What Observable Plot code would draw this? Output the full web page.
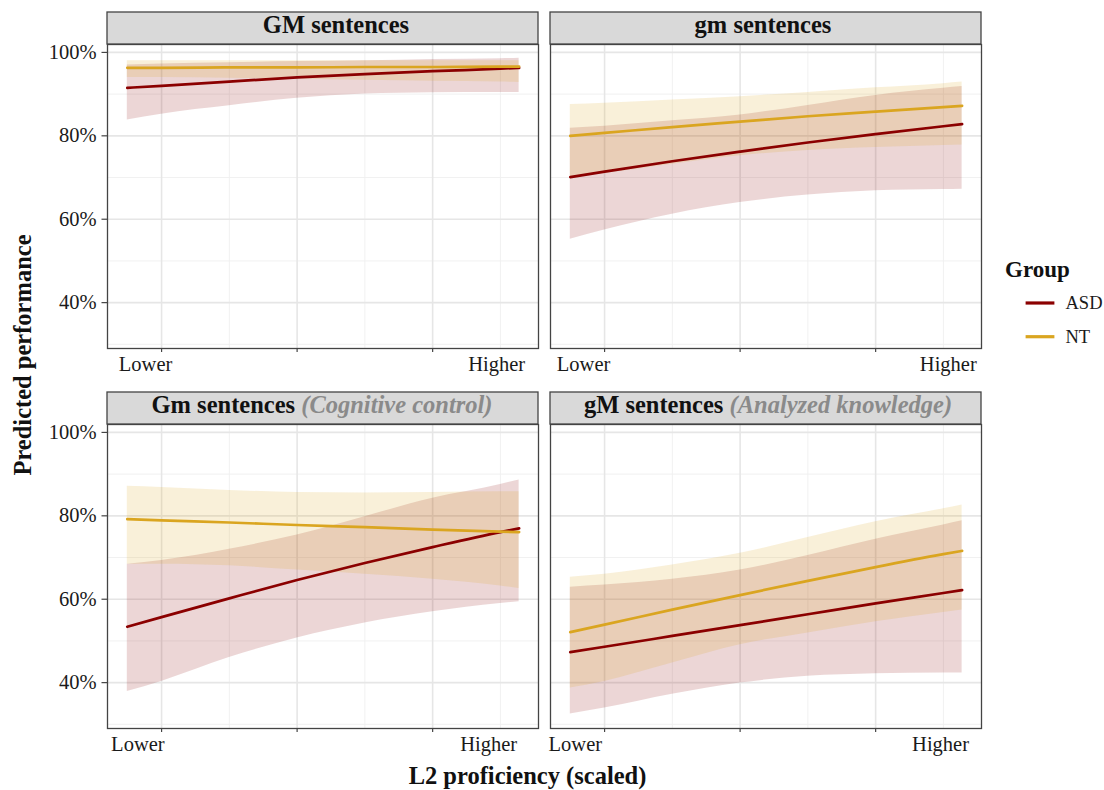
<!DOCTYPE html>
<html>
<head>
<meta charset="utf-8">
<script src="https://cdn.jsdelivr.net/npm/d3@7"></script>
<script src="https://cdn.jsdelivr.net/npm/@observablehq/plot@0.6"></script>
<style>
  html, body { margin: 0; padding: 0; background: #ffffff; }
  #wrap { position: relative; width: 1104px; height: 790px; background: #ffffff; overflow: hidden; }
  #wrap > svg { position: absolute; }
</style>
</head>
<body>
<div id="wrap"></div>
<script>
// ---------------- DATA ----------------
const groups = ["ASD", "NT"];
const xTickLabels = ["Lower", "Higher"];
const yTicks = [40, 60, 80, 100];
const yMinor = [30, 50, 70, 90];
const xMajor = [-1, 0, 1];
const xMinor = [-0.5, 0.5, 1.5];

// L2 proficiency (scaled) sample points
const xs = [-1.253, -1, -0.5, 0, 0.5, 1, 1.5, 1.638];

// Panel "GM sentences"
const GM_asdFit  = [91.5, 92.0, 93.0, 94.0, 94.8, 95.5, 96.1, 96.3];
const GM_asdLow  = [83.8, 85.2, 87.2, 89.0, 90.0, 90.3, 90.4, 90.4];
const GM_asdHigh = [97.0, 97.2, 97.5, 97.8, 98.0, 98.3, 98.5, 98.6];
const GM_ntFit   = [96.3, 96.3, 96.4, 96.4, 96.5, 96.5, 96.6, 96.6];
const GM_ntLow   = [94.0, 94.0, 93.8, 93.6, 93.3, 93.1, 92.9, 92.8];
const GM_ntHigh  = [98.0, 98.0, 98.0, 98.0, 98.0, 98.0, 98.0, 98.0];

// Panel "gm sentences"
const gm_asdFit  = [70.1, 71.4, 73.9, 76.2, 78.4, 80.4, 82.3, 82.8];
const gm_asdLow  = [55.2, 57.4, 61.2, 64.0, 65.8, 66.8, 67.1, 67.2];
const gm_asdHigh = [81.8, 82.3, 83.6, 85.0, 87.3, 89.7, 91.4, 91.8];
const gm_ntFit   = [80.0, 80.7, 82.1, 83.4, 84.7, 85.8, 86.9, 87.2];
const gm_ntLow   = [70.2, 71.0, 73.2, 75.2, 76.5, 77.2, 77.7, 77.8];
const gm_ntHigh  = [87.5, 87.8, 88.6, 89.4, 90.4, 91.5, 92.5, 92.9];

// Panel "Gm sentences (Cognitive control)"
const Gm_asdFit  = [53.4, 55.7, 60.2, 64.6, 68.7, 72.5, 76.1, 77.0];
const Gm_asdLow  = [37.9, 40.3, 46.0, 50.7, 54.3, 57.0, 59.0, 59.4];
const Gm_asdHigh = [68.4, 69.3, 72.0, 75.4, 79.8, 84.2, 87.5, 88.6];
const Gm_ntFit   = [79.2, 78.9, 78.4, 77.8, 77.3, 76.7, 76.2, 76.1];
const Gm_ntLow   = [68.4, 68.4, 68.0, 67.0, 66.0, 64.8, 63.2, 62.6];
const Gm_ntHigh  = [87.1, 86.8, 86.1, 85.6, 85.5, 85.6, 85.8, 85.8];

// Panel "gM sentences (Analyzed knowledge)"
const gM_asdFit  = [47.3, 48.6, 51.2, 53.8, 56.4, 59.0, 61.5, 62.2];
const gM_asdLow  = [32.5, 33.9, 37.2, 39.9, 41.5, 42.1, 42.3, 42.3];
const gM_asdHigh = [62.9, 63.4, 64.8, 67.0, 70.5, 74.4, 77.8, 78.8];
const gM_ntFit   = [52.1, 53.9, 57.5, 61.0, 64.4, 67.7, 70.8, 71.6];
const gM_ntLow   = [38.7, 40.3, 44.7, 49.1, 51.9, 54.6, 56.8, 57.4];
const gM_ntHigh  = [65.3, 66.0, 68.2, 71.0, 74.8, 78.6, 81.7, 82.6];

// ---------------- LAYOUT / STYLE ----------------
const colors = { ASD: "#8B0000", NT: "#DAA520" };
const FONT = "'Liberation Serif', 'Times New Roman', serif";
const PW = 431, PH = 304;
const mL = 70, mR = 10, mT = 4, mB = 44;
const xDomain = [-1.399, 1.781];
const yDomain = [29.0, 101.9];

function rows(fit, lo, hi, group) {
  return xs.map((x, i) => ({ x, fit: fit[i], lo: lo[i], hi: hi[i], group }));
}

const panels = [
  { left: 107, top: 44, yAxis: true, strip: { bold: "GM sentences", italic: null, cx: 336 },
    asd: rows(GM_asdFit, GM_asdLow, GM_asdHigh, "ASD"), nt: rows(GM_ntFit, GM_ntLow, GM_ntHigh, "NT"),
    labX: [-1.118, 1.472] },
  { left: 550, top: 44, yAxis: false, strip: { bold: "gm sentences", italic: null, cx: 763 },
    asd: rows(gm_asdFit, gm_asdLow, gm_asdHigh, "ASD"), nt: rows(gm_ntFit, gm_ntLow, gm_ntHigh, "NT"),
    labX: [-1.155, 1.536] },
  { left: 107, top: 424, yAxis: true, strip: { bold: "Gm sentences ", italic: "(Cognitive control)", cx: 322 },
    asd: rows(Gm_asdFit, Gm_asdLow, Gm_asdHigh, "ASD"), nt: rows(Gm_ntFit, Gm_ntLow, Gm_ntHigh, "NT"),
    labX: [-1.175, 1.413] },
  { left: 550, top: 424, yAxis: false, strip: { bold: "gM sentences ", italic: "(Analyzed knowledge)", cx: 768 },
    asd: rows(gM_asdFit, gM_asdLow, gM_asdHigh, "ASD"), nt: rows(gM_ntFit, gM_ntLow, gM_ntHigh, "NT"),
    labX: [-1.216, 1.479] }
];

const wrap = document.getElementById("wrap");
const CURVE = "monotone-x";

panels.forEach(p => {
  const marks = [
    Plot.ruleY(yMinor, { stroke: "#efefef", strokeWidth: 0.9 }),
    Plot.ruleX(xMinor, { stroke: "#efefef", strokeWidth: 0.9 }),
    Plot.ruleY(yTicks, { stroke: "#e6e6e6", strokeWidth: 1.6 }),
    Plot.ruleX(xMajor, { stroke: "#e6e6e6", strokeWidth: 1.6 }),
    Plot.areaY(p.asd, { x: "x", y1: "lo", y2: "hi", fill: colors.ASD, fillOpacity: 0.16, curve: CURVE }),
    Plot.areaY(p.nt,  { x: "x", y1: "lo", y2: "hi", fill: colors.NT,  fillOpacity: 0.17, curve: CURVE }),
    Plot.line(p.asd, { x: "x", y: "fit", stroke: colors.ASD, strokeWidth: 2.7, curve: CURVE }),
    Plot.line(p.nt,  { x: "x", y: "fit", stroke: colors.NT,  strokeWidth: 2.7, curve: CURVE }),
    Plot.frame({ stroke: "#444", strokeWidth: 1.3 }),
    Plot.axisX({ ticks: xMajor, tickSize: 4, tickFormat: () => "", label: null, stroke: "#444", strokeWidth: 1.2 }),
    Plot.text(xTickLabels.map((label, i) => ({ x: p.labX[i], label })), {
      x: "x", text: "label", frameAnchor: "bottom", lineAnchor: "top", dy: 7.5,
      fontSize: 20.5, fill: "#1a1a1a"
    })
  ];
  if (p.yAxis) {
    marks.push(Plot.axisY({ ticks: yTicks, tickFormat: d => d + "%", tickSize: 5.5, tickPadding: 5.5,
      label: null, fontSize: 20.5, stroke: "#444", fill: "#1a1a1a", strokeWidth: 1.2 }));
  }
  const chart = Plot.plot({
    width: mL + PW + mR,
    height: mT + PH + mB,
    marginLeft: mL, marginRight: mR, marginTop: mT, marginBottom: mB,
    x: { domain: xDomain, label: null },
    y: p.yAxis ? { domain: yDomain, label: null } : { domain: yDomain, label: null, axis: null },
    style: { fontFamily: FONT, fontSize: "20px", color: "#1a1a1a", background: "transparent", overflow: "visible" },
    marks
  });
  chart.style.left = (p.left - mL) + "px";
  chart.style.top = (p.top - mT) + "px";
  wrap.appendChild(chart);
});

// ---------------- OVERLAY: strips, titles, legend ----------------
const svg = d3.create("svg")
  .attr("width", 1104).attr("height", 790)
  .style("left", "0px").style("top", "0px")
  .style("pointer-events", "none")
  .attr("font-family", FONT);

panels.forEach(p => {
  svg.append("rect")
    .attr("x", p.left).attr("y", p.top - 32)
    .attr("width", PW).attr("height", 32)
    .attr("fill", "#d9d9d9").attr("stroke", "#444").attr("stroke-width", 1.3);
  const t = svg.append("text")
    .attr("x", p.strip.cx).attr("y", p.top - 10.7)
    .attr("text-anchor", "middle")
    .attr("font-size", 24.5)
    .attr("fill", "#111");
  t.append("tspan").attr("font-weight", "bold").text(p.strip.bold);
  if (p.strip.italic) {
    t.append("tspan").attr("font-weight", "bold").attr("font-style", "italic")
      .attr("fill", "#8a8a8a").text(p.strip.italic);
  }
});

// axis titles
svg.append("text")
  .attr("transform", "translate(31,355) rotate(-90)")
  .attr("text-anchor", "middle").attr("font-size", 24.5).attr("font-weight", "bold")
  .attr("fill", "#111").text("Predicted performance");
svg.append("text")
  .attr("x", 527.5).attr("y", 784)
  .attr("text-anchor", "middle").attr("font-size", 24.5).attr("font-weight", "bold")
  .attr("fill", "#111").text("L2 proficiency (scaled)");

// legend
svg.append("text")
  .attr("x", 1005).attr("y", 277)
  .attr("font-size", 23).attr("font-weight", "bold").attr("fill", "#111").text("Group");
const legendY = [303, 336.7];
groups.forEach((g, i) => {
  svg.append("line")
    .attr("x1", 1025.6).attr("x2", 1054.4)
    .attr("y1", legendY[i]).attr("y2", legendY[i])
    .attr("stroke", colors[g]).attr("stroke-width", 3.2);
  svg.append("text")
    .attr("x", 1065.5).attr("y", legendY[i] + 6.3)
    .attr("font-size", 18.5).attr("fill", "#1a1a1a").text(g);
});

wrap.appendChild(svg.node());
</script>
</body>
</html>
